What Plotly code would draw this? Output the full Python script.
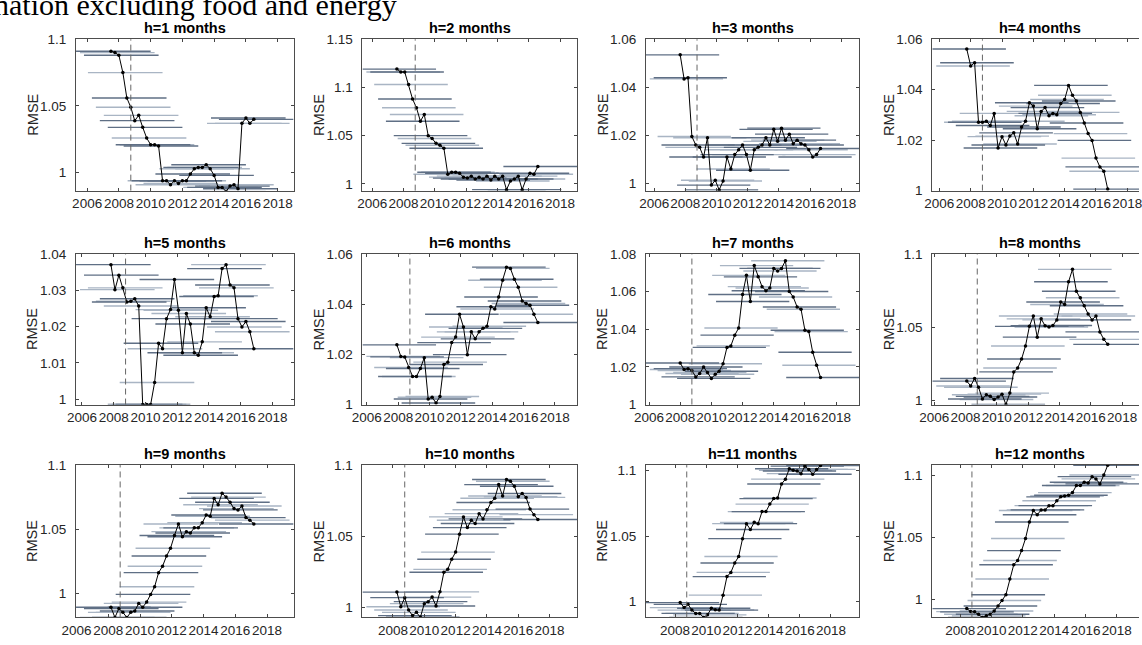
import plotly.graph_objects as go
from plotly.subplots import make_subplots

# Forecast horizons (months) and quarterly RMSE ratios
HORIZONS = [1, 2, 3, 4, 5, 6, 7, 8, 9, 10, 11, 12]

# first evaluation date of each horizon (decimal year); points are quarterly
FIRST_DATE = [2007.50, 2007.58, 2007.67, 2007.75, 2007.83, 2007.92,
              2008.00, 2008.08, 2008.17, 2008.25, 2008.33, 2008.42]

RMSE_H1 = [1.091, 1.090, 1.088, 1.075, 1.056, 1.049, 1.039, 1.043, 1.034, 1.026,
           1.021, 1.021, 1.020, 0.994, 0.994, 0.991, 0.994, 0.992, 0.994, 0.994,
           0.999, 1.003, 1.004, 1.004, 1.006, 1.003, 0.998, 0.989, 0.989, 0.986,
           0.990, 0.991, 0.988, 1.037, 1.041, 1.037, 1.040]
RMSE_H2 = [1.119, 1.116, 1.116, 1.103, 1.088, 1.079, 1.065, 1.072, 1.050, 1.047,
           1.042, 1.040, 1.037, 1.010, 1.012, 1.012, 1.011, 1.007, 1.006, 1.008,
           1.005, 1.007, 1.005, 1.008, 1.004, 1.008, 1.005, 1.008, 0.994, 1.003,
           1.005, 1.008, 0.994, 1.005, 1.011, 1.010, 1.018]
RMSE_H3 = [1.0535, 1.0435, 1.044, 1.0195, 1.016, 1.015, 1.011, 1.019, 0.9993, 1.0013,
           0.9973, 1.001, 1.011, 1.006, 1.012, 1.014, 1.016, 1.012, 1.0055, 1.014,
           1.015, 1.016, 1.019, 1.016, 1.0225, 1.0175, 1.023, 1.018, 1.0205, 1.0165,
           1.018, 1.0165, 1.016, 1.014, 1.011, 1.012, 1.0145]
RMSE_H4 = [1.0561, 1.0494, 1.0507, 1.0271, 1.0271, 1.0275, 1.0258, 1.0306, 1.0169, 1.0214,
           1.0181, 1.0216, 1.0229, 1.0185, 1.0252, 1.0275, 1.0348, 1.0335, 1.0245, 1.0314,
           1.0329, 1.0297, 1.0306, 1.0301, 1.0345, 1.0361, 1.0417, 1.0378, 1.0355, 1.0310,
           1.0268, 1.0226, 1.0199, 1.0129, 1.0094, 1.0077, 1.0006]
RMSE_H5 = [1.0371, 1.0302, 1.0342, 1.0307, 1.0268, 1.0270, 1.0277, 1.0257, 0.9985, 0.9985,
           0.9985, 1.0046, 1.0154, 1.0139, 1.0222, 1.0247, 1.0330, 1.0245, 1.0128, 1.0236,
           1.0207, 1.0128, 1.0121, 1.0158, 1.0252, 1.0227, 1.0283, 1.0285, 1.0360, 1.0371,
           1.0315, 1.0307, 1.0222, 1.0199, 1.0214, 1.0186, 1.0139]
RMSE_H6 = [1.0238, 1.0192, 1.0190, 1.0148, 1.0112, 1.0112, 1.0144, 1.0187, 1.0022, 1.0029,
           1.0006, 1.0032, 1.0160, 1.0169, 1.0247, 1.0269, 1.0360, 1.0309, 1.0199, 1.0290,
           1.0262, 1.0290, 1.0304, 1.0312, 1.0390, 1.0381, 1.0429, 1.0496, 1.0548, 1.0543,
           1.0500, 1.0468, 1.0413, 1.0403, 1.0396, 1.0360, 1.0327]
RMSE_H7 = [1.0221, 1.0186, 1.0191, 1.0181, 1.0147, 1.0165, 1.0200, 1.0170, 1.0139, 1.0161,
           1.0177, 1.0217, 1.0304, 1.0312, 1.0369, 1.0407, 1.0585, 1.0687, 1.0548, 1.0739,
           1.0679, 1.0627, 1.0605, 1.0620, 1.0724, 1.0710, 1.0724, 1.0765, 1.0601, 1.0572,
           1.0519, 1.0507, 1.0395, 1.0388, 1.0278, 1.0209, 1.0144]
RMSE_H8 = [1.0133, 1.0100, 1.0151, 1.0091, 1.0011, 1.0040, 1.0029, 1.0007, 1.0024, 1.0044,
           0.9973, 1.0051, 1.0196, 1.0222, 1.0284, 1.0373, 1.0507, 1.0578, 1.0433, 1.0558,
           1.0511, 1.0502, 1.0513, 1.0551, 1.0673, 1.0656, 1.0811, 1.0896, 1.0747, 1.0702,
           1.0647, 1.0591, 1.0551, 1.0578, 1.0469, 1.0418, 1.0384]
RMSE_H9 = [0.989, 0.981, 0.988, 0.985, 0.981, 0.985, 0.986, 0.992, 0.989, 0.993,
           0.999, 1.005, 1.016, 1.021, 1.029, 1.035, 1.045, 1.054, 1.044, 1.048,
           1.047, 1.051, 1.051, 1.055, 1.061, 1.060, 1.074, 1.069, 1.078, 1.075,
           1.071, 1.066, 1.065, 1.068, 1.059, 1.057, 1.054]
RMSE_H10 = [1.0108, 1.0005, 1.0069, 0.9982, 0.9943, 0.9966, 0.9931, 1.0027, 1.0041, 1.0073,
            1.0011, 1.0110, 1.0247, 1.0268, 1.0339, 1.0389, 1.0515, 1.0636, 1.0561, 1.0613,
            1.0590, 1.0659, 1.0622, 1.0686, 1.0737, 1.0767, 1.0863, 1.0783, 1.0899, 1.0886,
            1.0851, 1.0778, 1.0801, 1.0773, 1.0691, 1.0652, 1.0618]
RMSE_H11 = [0.9993, 0.9955, 0.9980, 0.9936, 0.9911, 0.9911, 0.9880, 0.9900, 0.9950, 0.9938,
            0.9936, 1.0050, 1.0191, 1.0223, 1.0295, 1.0344, 1.0480, 1.0594, 1.0550, 1.0604,
            1.0594, 1.0686, 1.0686, 1.0743, 1.0785, 1.0790, 1.0896, 1.0933, 1.1012, 1.1000,
            1.0995, 1.0975, 1.1032, 1.1007, 1.0970, 1.1007, 1.1037]
RMSE_H12 = [0.9927, 0.9903, 0.9901, 0.9882, 0.9856, 0.9869, 0.9882, 0.9908, 0.9948, 0.9992,
            1.0039, 1.0165, 1.0280, 1.0314, 1.0393, 1.0490, 1.0623, 1.0715, 1.0681, 1.0720,
            1.0720, 1.0754, 1.0754, 1.0793, 1.0825, 1.0832, 1.0838, 1.0859, 1.0916, 1.0916,
            1.0942, 1.0937, 1.0987, 1.0969, 1.0929, 1.1000, 1.1079]

SERIES = [RMSE_H1, RMSE_H2, RMSE_H3, RMSE_H4, RMSE_H5, RMSE_H6,
          RMSE_H7, RMSE_H8, RMSE_H9, RMSE_H10, RMSE_H11, RMSE_H12]

# estimation window around each point (years before / after)
WIN_BACK = 2.2
WIN_FWD = 2.5
BREAK_DATE = 2008.75  # Lehman, Sept 2008

Y_RANGES = [(0.9866, 1.1), (0.993, 1.15), (0.997, 1.06), (1.0, 1.06),
            (0.9985, 1.04), (1.0, 1.06), (1.0, 1.08), (0.9973, 1.1),
            (0.981, 1.1), (0.993, 1.1), (0.988, 1.104), (0.9856, 1.108)]
Y_TICKS = [[1, 1.05, 1.1], [1, 1.05, 1.1, 1.15], [1, 1.02, 1.04, 1.06], [1, 1.02, 1.04, 1.06],
           [1, 1.01, 1.02, 1.03, 1.04], [1, 1.02, 1.04, 1.06], [1, 1.02, 1.04, 1.06, 1.08],
           [1, 1.05, 1.1], [1, 1.05, 1.1], [1, 1.05, 1.1], [1, 1.05, 1.1], [1, 1.05, 1.1]]
X_TICKS = [2006, 2008, 2010, 2012, 2014, 2016, 2018]

# visible part of the figure title (the page crops the rest)
TITLE = "nation excluding food and energy"

# panel placement in pixels of the 1142x645 page
W, H = 1142, 645
COL_PX = [(62, 283), (353, 571), (641, 858), (932, 1150)]
ROW_PX = [(33, 188), (253, 407), (469, 625)]

SEG_COLORS = ["#5f6f85", "#a9b5c4"]
TEXT = "#262626"
FONT = "Liberation Sans, Arial, sans-serif"

fig = make_subplots(rows=3, cols=4)

for k, h in enumerate(HORIZONS):
    r, c = divmod(k, 4)
    vals = SERIES[k]
    dates = [FIRST_DATE[k] + 0.25 * i for i in range(len(vals))]

    seg_x = [[], []]
    seg_y = [[], []]
    for i, (d, v) in enumerate(zip(dates, vals)):
        seg_x[i % 2] += [d - WIN_BACK, d + WIN_FWD, None]
        seg_y[i % 2] += [v, v, None]
    for j in (1, 0):
        fig.add_trace(
            go.Scatter(x=seg_x[j], y=seg_y[j], mode="lines",
                       line=dict(color=SEG_COLORS[j], width=1.4),
                       showlegend=False, hoverinfo="skip"),
            row=r + 1, col=c + 1,
        )

    fig.add_trace(
        go.Scatter(x=dates, y=vals, mode="lines+markers",
                   line=dict(color="black", width=1),
                   marker=dict(color="black", size=3.5),
                   showlegend=False, name=f"h={h}"),
        row=r + 1, col=c + 1,
    )

    fig.add_vline(x=BREAK_DATE, line=dict(color="#666666", width=1, dash="6px,4px"),
                  row=r + 1, col=c + 1)

    x0_px, x1_px = COL_PX[c]
    y0_px, y1_px = ROW_PX[r]
    xr = [dates[0] - WIN_BACK, dates[-1] + WIN_FWD]
    if x1_px > W:  # right column is cut off by the page edge
        xr[1] = xr[0] + (xr[1] - xr[0]) * (W - x0_px) / (x1_px - x0_px)
        x1_px = W

    n = "" if k == 0 else str(k + 1)
    fig.update_layout(**{
        f"xaxis{n}": dict(
            domain=[x0_px / W, x1_px / W], range=xr, tickvals=X_TICKS, tickangle=0,
            ticks="inside", ticklen=3, showline=True, linecolor="#4d4d4d", linewidth=1,
            mirror="ticks", showgrid=False, zeroline=False, ticklabeloverflow="allow",
            tickfont=dict(family=FONT, size=13.5, color=TEXT),
        ),
        f"yaxis{n}": dict(
            domain=[1 - y1_px / H, 1 - y0_px / H], range=list(Y_RANGES[k]),
            tickvals=Y_TICKS[k], ticktext=[f"{t:g}" for t in Y_TICKS[k]],
            ticks="inside", ticklen=3, showline=True, linecolor="#4d4d4d", linewidth=1,
            mirror="ticks" if c < 3 else False, showgrid=False, zeroline=False,
            ticklabelstandoff=6,
            tickfont=dict(family=FONT, size=13.5, color=TEXT),
        ),
    })

    fig.add_annotation(
        text=f"<b>h={h} months</b>", xref="paper", yref="paper",
        x=(x0_px + COL_PX[c][1]) / 2 / W, y=1 - (y0_px - 11) / H,
        xanchor="center", yanchor="middle", showarrow=False,
        font=dict(family=FONT, size=14.5, color="black"),
    )
    fig.add_annotation(
        text="RMSE", textangle=-90, xref="paper", yref="paper",
        x=(x0_px - 44) / W, y=1 - (y0_px + y1_px) / 2 / H,
        xanchor="center", yanchor="middle", showarrow=False,
        font=dict(family=FONT, size=14.5, color=TEXT),
    )

# figure title, partly cut off by the top page edge
fig.add_annotation(
    text=TITLE, xref="paper", yref="paper",
    x=390 / W, y=1 + 3 / H, xanchor="right", yanchor="middle", showarrow=False,
    font=dict(family="Liberation Serif, Times New Roman, serif", size=30, color="black"),
)

fig.update_layout(
    width=W, height=H,
    margin=dict(l=0, r=0, t=0, b=0),
    paper_bgcolor="white", plot_bgcolor="white",
    showlegend=False,
)

fig.write_html(
    "out.html",
    config={"displayModeBar": False},
    post_script="document.body.style.margin='0';document.body.style.overflow='hidden';",
)
